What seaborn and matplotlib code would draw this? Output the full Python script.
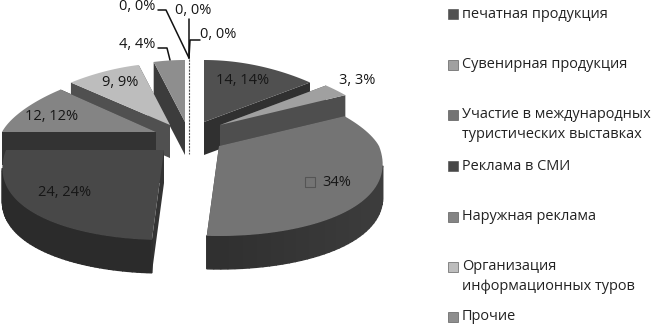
"""
Разрезанная объёмная круговая диаграмма: структура рекламных расходов
"""
import matplotlib
matplotlib.use('Agg')
import matplotlib.pyplot as plt
import numpy as np
import seaborn as sns

sns.set_theme(style='white')
plt.rcParams['font.family'] = ['Open Sans', 'DejaVu Sans']

# данные
values = [14, 3, 34, 24, 12, 9, 4, 0, 0, 0]
legend_labels = ['печатная продукция', 'Сувенирная продукция',
                 'Участие в международных\nтуристических выставках', 'Реклама в СМИ',
                 'Наружная реклама', 'Организация\nинформационных туров', 'Прочие']
legend_rows = [14, 65, 115, 166, 217, 267, 317]

# оформление секторов
top_colors = ['#505050', '#a0a0a0', '#747474', '#484848', '#848484', '#bdbdbd', '#8e8e8e', '#777777', '#777777', '#777777']
wall_colors = ['#303030', '#4e4e4e', '#383838', '#333333', '#333333', '#505050', '#3c3c3c', '#333333', '#333333', '#333333']
apex_x = [204, 220, 219, 164, 156, 170, 185, 189, 189, 189]
apex_y = [122, 125, 146, 150, 132, 125, 122, 122, 122, 122]
radius = [160, 160, 160, 158, 154, 160, 160, 160, 160, 160]
draw_order = [7, 0, 1, 6, 5, 4, 3, 2]
RY_BACK, RY_FRONT, DEPTH = 62, 90, 33


def rim(i, t):
    """точка на краю сектора i для угла t (радианы, по часовой от верха)"""
    c, s = np.cos(t), np.sin(t)
    x = apex_x[i] + radius[i] * s * (1 - 0.22 * c)
    y = apex_y[i] - c * np.where(c > 0, RY_BACK, RY_FRONT)
    return x, y


fig = plt.figure(figsize=(6.54, 3.24), dpi=100)
ax = fig.add_axes([0, 0, 1, 1])
ax.axis('off')

edges = np.cumsum([0] + values) / sum(values) * 2 * np.pi
for i in draw_order:
    t = np.linspace(edges[i], edges[i + 1], 60)
    x, y = rim(i, t)
    # боковые срезы
    for j in (0, -1):
        ax.fill([apex_x[i], x[j], x[j], apex_x[i]],
                [apex_y[i], y[j], y[j] + DEPTH, apex_y[i] + DEPTH],
                color=wall_colors[i], lw=0)
    # внешняя стенка видна только ниже самой широкой точки
    front = np.cos(t) < -0.2
    fx, fy, ft = x[front], y[front], t[front]
    for k in range(len(fx) - 1):
        shade = 0.85 + 0.25 * max(np.sin(ft[k]), 0)
        col = np.clip(np.array(matplotlib.colors.to_rgb(wall_colors[i])) * shade, 0, 1)
        ax.fill([fx[k], fx[k + 1], fx[k + 1], fx[k]],
                [fy[k], fy[k + 1], fy[k + 1] + DEPTH, fy[k] + DEPTH],
                color=col, lw=1)
    # верхняя грань
    ax.fill(np.r_[apex_x[i], x], np.r_[apex_y[i], y], color=top_colors[i], lw=0)

# нулевые секторы: тонкий пунктир
ax.plot([apex_x[7]] * 2, [59, 154], color='#555555', lw=0.8, ls=(0, (2, 1)))

# подписи
txt = dict(fontsize=10.5, color='#161616', ha='center', va='center')
labels = [f'{v}, {v}%' for v in values]
ax.text(243, 80, labels[0], **txt)
ax.text(357, 80, labels[1], **txt)
ax.text(337, 183, f'{values[2]}%', **txt)
ax.text(65, 192, labels[3], **txt)
ax.text(52, 116, labels[4], **txt)
ax.text(120, 82, labels[5], **txt)
ax.text(137, 45, labels[6], **txt)
ax.text(137, 7, labels[7], **txt)
ax.text(193, 10, labels[8], **txt)
ax.text(218, 35, labels[9], **txt)
ax.scatter([310], [182], marker='s', s=50, facecolor='none', edgecolor='#555555', lw=0.8)

# линии выноски
for lx, ly in [([158, 166, 189], [10, 10, 58]), ([189, 189], [19, 58]),
               ([200, 190, 189], [40, 40, 58]), ([158, 167, 170], [48, 48, 60])]:
    ax.plot(lx, ly, color='#111111', lw=1.1)

# легенда
sns.scatterplot(x=[453] * len(legend_rows), y=legend_rows, hue=legend_labels,
                palette=top_colors[:7], marker='s', s=55, edgecolor='#444444',
                linewidth=0.4, legend=False, ax=ax)
for row, label in zip(legend_rows, legend_labels):
    if '\n' in label:
        ax.text(462, row - 8, label, fontsize=10.45, color='#222222', ha='left', va='top', linespacing=1.45)
    else:
        ax.text(462, row, label, fontsize=10.45, color='#222222', ha='left', va='center')

ax.set_xlim(0, 654)
ax.set_ylim(324, 0)
fig.savefig('out.png', dpi=100)
